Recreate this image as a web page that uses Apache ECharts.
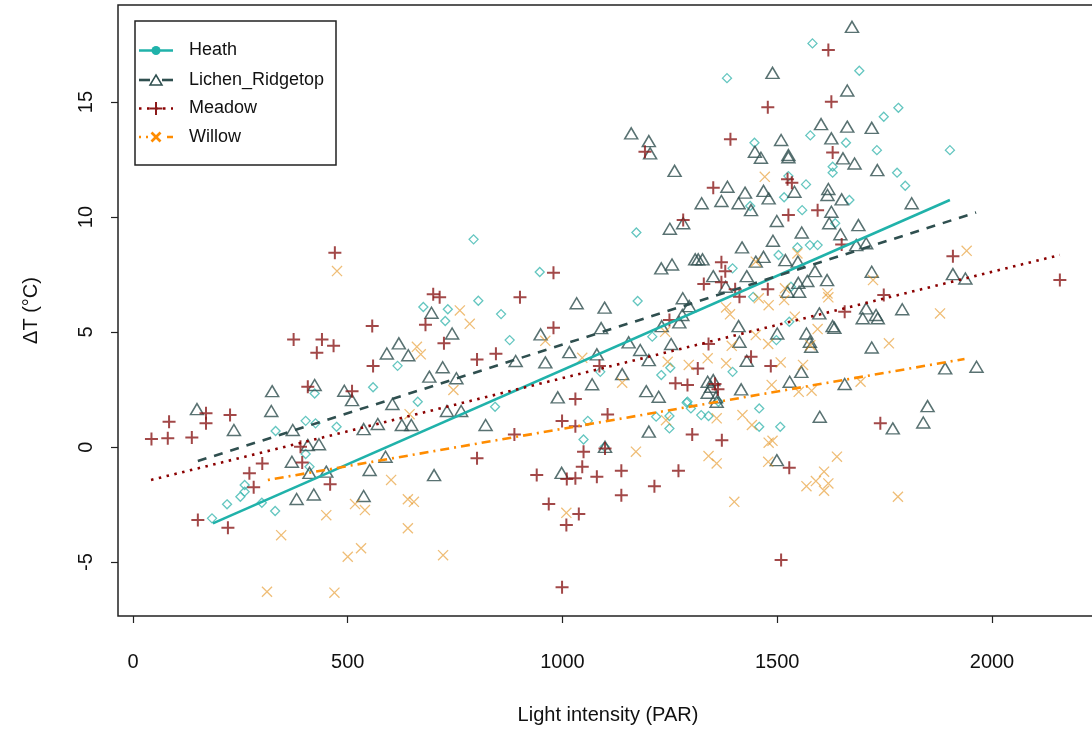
<!DOCTYPE html>
<html><head><meta charset="utf-8">
<script src="https://cdn.jsdelivr.net/npm/echarts@6/dist/echarts.min.js"></script>
<style>html,body{margin:0;padding:0;background:#fff}#c{width:1092px;height:731px}</style>
</head><body><div id="c"></div>
<script>
const xTicks=[0,500,1000,1500,2000];
const yTicks=[-5,0,5,10,15];
const seriesNames=['Heath','Lichen_Ridgetop','Meadow','Willow'];

const heathX=[1582,1383,1577,1447,1660,1629,1629,1526,1567,1516,1437,1691,1782,1748,1732,1902,1779,1798,1668,423,793,947,804,676,733,857,727,877,616,1088,559,663,843,1558,1635,1172,1547,1576,1594,1503,1396,1532,1444,1175,1528,1209,1498,1251,1396,1230,1291,1363,1458,332,402,425,474,402,411,260,250,260,219,300,331,184,1059,1049,1218,1249,1249,1289,1299,1323,1340,1458,1507,1098];
const heathY=[17.55,16.04,13.55,13.23,13.23,12.19,11.93,11.78,11.42,10.86,10.48,16.36,14.75,14.36,12.91,12.91,11.93,11.36,10.74,2.33,9.03,7.61,6.36,6.09,5.99,5.78,5.48,4.65,3.53,3.27,2.60,1.97,1.75,10.30,9.73,9.33,8.68,8.78,8.78,8.35,7.77,6.97,6.53,6.35,5.45,4.80,4.65,3.45,3.27,3.13,1.97,1.97,1.68,0.70,1.14,1.03,0.88,-0.30,-0.86,-1.65,-2.16,-1.94,-2.49,-2.42,-2.78,-3.10,1.14,0.33,1.32,1.35,0.81,1.93,1.68,1.39,1.35,0.88,0.88,0.01];

const lichenX=[1489,1663,1602,1663,1160,1201,1204,1509,1626,1448,1462,1526,1526,1653,1261,1384,1425,1468,1540,1619,1617,1480,1324,1370,1410,1650,1674,1720,1680,1733,1813,324,423,492,510,149,322,695,1033,1098,1090,743,949,619,591,641,891,1016,1080,960,721,690,753,1069,989,604,1439,1626,1281,1250,1499,1621,1557,1647,1490,1418,1468,1519,1309,1316,1326,1450,1548,1230,1255,1351,1429,1588,1380,1549,1570,1616,1551,1524,1280,1295,1279,1598,1272,1231,1410,1629,1633,1500,1568,1154,1253,1412,1576,1579,1181,1201,1429,1556,1139,1338,1351,1346,1529,1657,1416,1195,1224,1338,1357,1359,1689,1684,1707,1909,1938,1720,1707,1699,1730,1734,1791,1720,1891,1964,1850,235,372,537,407,433,370,411,450,381,421,537,731,764,570,626,648,821,1099,588,551,701,998,1201,1599,1499,1769,1840];
const lichenY=[16.27,15.5,14.04,13.93,13.64,13.30,12.77,13.35,13.42,12.84,12.58,12.70,12.6,12.55,12.01,11.32,11.06,11.14,11.10,11.22,10.96,10.81,10.60,10.70,10.60,10.77,18.27,13.88,12.33,12.04,10.60,2.43,2.70,2.45,2.04,1.65,1.57,5.84,6.25,6.06,5.17,4.94,4.90,4.51,4.07,3.99,3.74,4.13,4.03,3.68,3.47,3.06,2.99,2.73,2.16,1.87,10.30,10.23,9.73,9.49,9.83,9.73,9.33,9.25,8.97,8.68,8.27,8.13,8.16,8.16,8.16,8.06,8.06,7.77,7.94,7.43,7.43,7.65,6.97,7.14,7.22,7.26,6.75,6.75,6.47,6.13,5.74,5.81,5.42,5.26,5.26,5.26,5.19,4.94,4.94,4.55,4.48,4.58,4.58,4.36,4.22,3.78,3.75,3.27,3.17,2.84,2.91,2.62,2.84,2.74,2.51,2.43,2.19,2.36,2.16,1.97,9.65,8.78,8.86,7.52,7.33,7.62,6.03,5.60,5.74,5.60,5.99,4.33,3.42,3.49,1.78,0.74,0.74,0.78,0.09,0.12,-0.64,-1.12,-1.07,-2.26,-2.06,-2.13,1.57,1.57,1.00,0.96,0.96,0.96,0.01,-0.42,-1.00,-1.22,-1.12,0.67,1.32,-0.57,0.81,1.07];

const meadowX=[1619,1626,1478,1192,1391,1629,1524,1534,1351,1594,470,374,440,467,428,557,407,510,979,699,714,901,681,979,724,845,801,559,1086,1030,1281,1526,1650,1370,1379,1329,1370,1478,1412,1402,1657,1249,1340,1439,1315,1485,1263,1291,1355,1362,1909,2158,1748,170,170,84,226,43,81,137,390,394,301,271,281,459,151,221,999,1030,1105,888,1049,1099,801,940,1010,1030,1046,1080,968,1038,1009,999,1302,1371,1528,1137,1270,1214,1137,1509,1740];
const meadowY=[17.26,15.01,14.77,12.84,13.38,12.81,11.64,11.49,11.27,10.30,8.45,4.68,4.68,4.40,4.10,5.26,2.62,2.43,7.58,6.64,6.51,6.51,5.32,5.19,4.51,4.06,3.81,3.52,3.52,2.09,9.87,10.09,8.81,8.03,7.64,7.09,7.17,6.86,6.53,6.86,5.88,5.52,4.48,3.93,3.42,3.52,2.77,2.70,2.74,2.51,8.30,7.26,6.61,1.47,1.03,1.10,1.39,0.35,0.38,0.42,0.01,-0.67,-0.71,-1.14,-1.75,-1.62,-3.17,-3.51,1.13,0.91,1.42,0.55,-0.20,-0.06,-0.49,-1.22,-1.39,-1.36,-0.86,-1.29,-2.48,-2.91,-3.39,-6.10,0.55,0.30,-0.90,-1.03,-1.03,-1.70,-2.09,-4.91,1.03];

const willowX=[1471,475,761,784,960,661,670,1046,746,1450,1547,1518,1617,1619,1516,1480,1457,1381,1390,1541,1239,1594,1450,1394,1479,1577,1338,1381,1508,1245,1294,1560,1139,1487,1550,1580,1941,1723,1879,1760,1694,450,517,345,531,500,312,469,644,601,540,640,654,1009,640,722,1241,1359,1419,1441,1171,1480,1489,1340,1359,1479,1639,1609,1568,1590,1619,1609,1400,1781];
const willowY=[11.75,7.65,5.94,5.36,4.62,4.36,4.03,3.88,2.48,8.06,8.42,6.90,6.68,6.51,6.39,6.17,6.47,6.07,5.77,5.67,5.01,5.13,4.87,4.40,4.48,4.43,3.86,3.64,3.68,3.71,3.57,3.57,2.80,2.70,2.40,2.45,8.53,7.26,5.81,4.51,2.84,-2.96,-2.48,-3.83,-4.40,-4.77,-6.29,-6.33,1.43,-1.43,-2.74,-2.27,-2.38,-2.86,-3.53,-4.70,1.17,1.25,1.39,0.96,-0.20,0.19,0.27,-0.39,-0.71,-0.64,-0.42,-1.07,-1.70,-1.48,-1.58,-1.90,-2.38,-2.16];

const heathFitX=[186,1902], heathFitY=[-3.32,10.74];
const lichenFitX=[151,1963], lichenFitY=[-0.61,10.20];
const meadowFitX=[42,2158], meadowFitY=[-1.43,8.35];
const willowFitX=[314,1936], willowFitY=[-1.43,3.83];

const FONT="'Liberation Sans', Arial, sans-serif";
const TXT='#111';
const C_HEATH='#20B2AA', C_LICHEN='#2F4F4F', C_MEADOW='#8B0000', C_WILLOW='#FF8C00';
const plusPath='path://M0,5.5h13v2h-13z M5.5,0h2v13h-2z';
const xPath='path://M0,0.9L0.9,0L11,10.1L10.1,11Z M10.1,0L11,0.9L0.9,11L0,10.1Z';
function pairs(xs,ys){return xs.map((x,i)=>[x,ys[i]]);}

const chart=echarts.init(document.getElementById('c'),null,{renderer:'canvas'});
const option={
  animation:false,
  backgroundColor:'#fff',
  grid:{left:118,top:5,width:980,height:611,show:true,borderColor:'#222',borderWidth:1.5,backgroundColor:'transparent',outerBoundsMode:'none'},
  xAxis:{type:'value',min:-34.9,max:2246.8,
    name:'Light intensity (PAR)',nameLocation:'middle',nameGap:89,
    nameTextStyle:{fontFamily:FONT,fontSize:20,color:TXT},
    axisLine:{show:false,onZero:false},
    axisTick:{show:true,length:7,customValues:xTicks,lineStyle:{color:'#222',width:1.2}},
    axisLabel:{customValues:xTicks,margin:36,fontFamily:FONT,fontSize:20,color:TXT,formatter:v=>String(v)},
    splitLine:{show:false}},
  yAxis:{type:'value',min:-7.345,max:19.22,
    name:'ΔT (°C)',nameLocation:'middle',nameGap:77,nameRotate:90,
    nameTextStyle:{fontFamily:FONT,fontSize:20,color:TXT},
    axisLine:{show:false,onZero:false},
    axisTick:{show:true,length:7,customValues:yTicks,lineStyle:{color:'#222',width:1.2}},
    axisLabel:{customValues:yTicks,rotate:90,margin:22,fontFamily:FONT,fontSize:20,color:TXT,formatter:v=>String(v)},
    splitLine:{show:false}},
  series:[
    {name:'Heath',type:'scatter',data:pairs(heathX,heathY),symbol:'diamond',symbolSize:9,
      itemStyle:{color:'transparent',borderColor:'#3DB8B0',borderWidth:1.3},z:2},
    {name:'Lichen_Ridgetop',type:'scatter',data:pairs(lichenX,lichenY),symbol:'triangle',symbolSize:[13,11],
      itemStyle:{color:'transparent',borderColor:C_LICHEN,borderWidth:1.5},z:2},
    {name:'Meadow',type:'scatter',data:pairs(meadowX,meadowY),symbol:plusPath,symbolSize:13,
      itemStyle:{color:'#8B1A1A'},z:2},
    {name:'Willow',type:'scatter',data:pairs(willowX,willowY),symbol:xPath,symbolSize:11,
      itemStyle:{color:'rgba(228,140,18,0.72)'},z:2},
    {name:'HeathFit',type:'line',data:pairs(heathFitX,heathFitY),showSymbol:false,symbol:'none',
      lineStyle:{color:C_HEATH,width:2.6,type:'solid'},z:5,silent:true},
    {name:'LichenFit',type:'line',data:pairs(lichenFitX,lichenFitY),showSymbol:false,symbol:'none',
      lineStyle:{color:C_LICHEN,width:2.6,type:[9,8]},z:5,silent:true},
    {name:'MeadowFit',type:'line',data:pairs(meadowFitX,meadowFitY),showSymbol:false,symbol:'none',
      lineStyle:{color:C_MEADOW,width:2.6,type:[2.5,5.5]},z:5,silent:true},
    {name:'WillowFit',type:'line',data:pairs(willowFitX,willowFitY),showSymbol:false,symbol:'none',
      lineStyle:{color:C_WILLOW,width:2.6,type:[2,5,9,5]},z:5,silent:true}
  ],
  graphic:[
    {type:'rect',shape:{x:135,y:21,width:201,height:144},style:{fill:'#fff',stroke:'#222',lineWidth:1.5},z:100},
    {type:'line',shape:{x1:139,y1:50.5,x2:173,y2:50.5},style:{stroke:C_HEATH,lineWidth:2.6},z:101},
    {type:'circle',shape:{cx:156,cy:50.5,r:4.5},style:{fill:C_HEATH},z:102},
    {type:'text',x:189,y:50.5,style:{text:seriesNames[0],fontFamily:FONT,fontSize:18,fill:TXT,verticalAlign:'middle'},z:102},
    {type:'line',shape:{x1:139,y1:80,x2:150,y2:80},style:{stroke:C_LICHEN,lineWidth:2.6},z:101},
    {type:'line',shape:{x1:162,y1:80,x2:173,y2:80},style:{stroke:C_LICHEN,lineWidth:2.6},z:101},
    {type:'polygon',shape:{points:[[156,75],[162,85],[150,85]]},style:{fill:'none',stroke:C_LICHEN,lineWidth:1.5},z:102},
    {type:'text',x:189,y:80,style:{text:seriesNames[1],fontFamily:FONT,fontSize:18,fill:TXT,verticalAlign:'middle'},z:102},
    {type:'line',shape:{x1:139,y1:108.5,x2:173,y2:108.5},style:{stroke:C_MEADOW,lineWidth:2.6,lineDash:[2.5,5.5]},z:101},
    {type:'line',shape:{x1:149.5,y1:108.5,x2:162.5,y2:108.5},style:{stroke:'#8B1A1A',lineWidth:2},z:102},
    {type:'line',shape:{x1:156,y1:102,x2:156,y2:115},style:{stroke:'#8B1A1A',lineWidth:2},z:102},
    {type:'text',x:189,y:108.5,style:{text:seriesNames[2],fontFamily:FONT,fontSize:18,fill:TXT,verticalAlign:'middle'},z:102},
    {type:'line',shape:{x1:139,y1:137,x2:173,y2:137},style:{stroke:C_WILLOW,lineWidth:2.6,lineDash:[2,5,9,5]},z:101},
    {type:'rect',shape:{x:148,y:130,width:16,height:14},style:{fill:'#fff'},z:101},
    {type:'line',shape:{x1:151.5,y1:132.5,x2:160.5,y2:141.5},style:{stroke:C_WILLOW,lineWidth:2.6},z:102},
    {type:'line',shape:{x1:160.5,y1:132.5,x2:151.5,y2:141.5},style:{stroke:C_WILLOW,lineWidth:2.6},z:102},
    {type:'text',x:189,y:137,style:{text:seriesNames[3],fontFamily:FONT,fontSize:18,fill:TXT,verticalAlign:'middle'},z:102}
  ]
};
chart.setOption(option);
</script>
</body></html>
